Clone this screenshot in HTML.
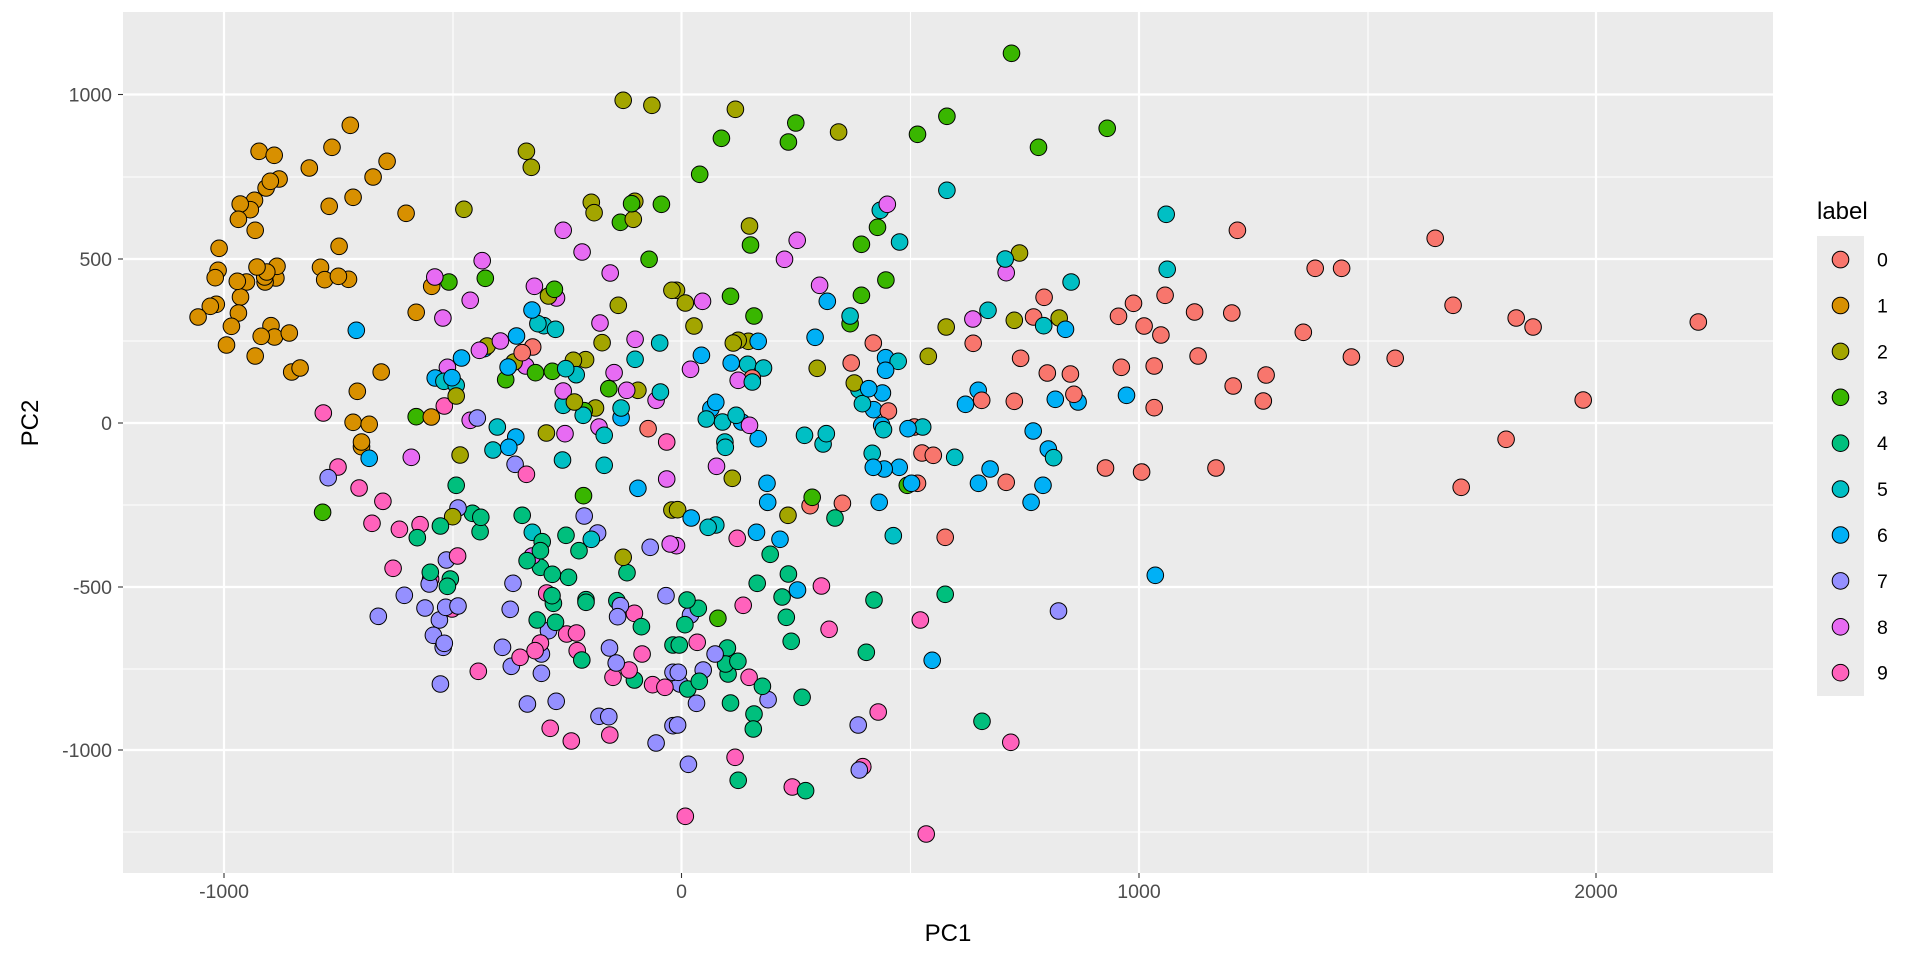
<!DOCTYPE html>
<html><head><meta charset="utf-8"><style>
html,body{margin:0;padding:0;background:#fff;}
svg{display:block;font-family:"Liberation Sans",sans-serif;}
</style></head><body>
<svg id="s" width="1920" height="960" viewBox="0 0 1920 960" xmlns="http://www.w3.org/2000/svg">
<rect x="0" y="0" width="1920" height="960" fill="#fff"/>
<rect x="123" y="12" width="1650" height="861" fill="#EBEBEB"/>
<g stroke="#fff" stroke-width="1.1">
<line x1="453" y1="12" x2="453" y2="873"/><line x1="910.5" y1="12" x2="910.5" y2="873"/><line x1="1368" y1="12" x2="1368" y2="873"/>
<line x1="123" y1="177" x2="1773" y2="177"/><line x1="123" y1="341" x2="1773" y2="341"/><line x1="123" y1="505" x2="1773" y2="505"/><line x1="123" y1="669" x2="1773" y2="669"/><line x1="123" y1="832" x2="1773" y2="832"/>
</g>
<g stroke="#fff" stroke-width="2.2">
<line x1="224" y1="12" x2="224" y2="873"/><line x1="681.5" y1="12" x2="681.5" y2="873"/><line x1="1139" y1="12" x2="1139" y2="873"/><line x1="1596" y1="12" x2="1596" y2="873"/>
<line x1="123" y1="94.5" x2="1773" y2="94.5"/><line x1="123" y1="259" x2="1773" y2="259"/><line x1="123" y1="423" x2="1773" y2="423"/><line x1="123" y1="587" x2="1773" y2="587"/><line x1="123" y1="750" x2="1773" y2="750"/>
</g>
<g id="pts" stroke="#000" stroke-width="1"></g>
<g stroke="#333" stroke-width="1.1">
<line x1="118" y1="94.5" x2="123" y2="94.5"/><line x1="118" y1="259" x2="123" y2="259"/><line x1="118" y1="423" x2="123" y2="423"/><line x1="118" y1="587" x2="123" y2="587"/><line x1="118" y1="750" x2="123" y2="750"/>
<line x1="224" y1="873" x2="224" y2="878"/><line x1="681.5" y1="873" x2="681.5" y2="878"/><line x1="1139" y1="873" x2="1139" y2="878"/><line x1="1596" y1="873" x2="1596" y2="878"/>
</g>
<g fill="#4D4D4D" font-size="19.5" text-anchor="end">
<text x="112" y="101.5">1000</text><text x="112" y="266">500</text><text x="112" y="430">0</text><text x="112" y="594">-500</text><text x="112" y="757">-1000</text>
</g>
<g fill="#4D4D4D" font-size="19.5" text-anchor="middle">
<text x="224" y="898">-1000</text><text x="681.5" y="898">0</text><text x="1139" y="898">1000</text><text x="1596" y="898">2000</text>
</g>
<text x="948" y="941" font-size="24" text-anchor="middle" fill="#000">PC1</text>
<text transform="translate(38,423) rotate(-90)" font-size="24" text-anchor="middle" fill="#000">PC2</text>
<text x="1817" y="219" font-size="24" fill="#000">label</text>
<rect x="1817" y="236" width="47" height="460" fill="#EBEBEB"/>
<g id="leg" stroke="#000" stroke-width="1"></g>
</svg>
<script>
var C=["#F8766D","#D89000","#A3A500","#39B600","#00BF7D","#00BFC4","#00B0F6","#9590FF","#E76BF3","#FF62BC"];
var T={
3:[123,12,{2:"1426,265;1508,280;1150,418;1164,466;972,592;1335,571;1343,602;1455,622;1459,568;1412,880;1366,992;1284,1045;1319,1043;1287,1170;1347,1188;1468,1135;1207,1263;950,1152;1038,1002;1213,852;1565,835;1115,1050",
3:"1450,575;1535,577;1418,631;1500,742;929,810;1033,799;1230,832;1091,1103;1176,1082;1224,1078;1385,1130;1315,1196;836,1214",
1:"648,340;388,418;431,430;596,406;531,468;753,448;713,495;445,501;420,508;408,528;375,565;334,576;363,593;329,622;377,655;588,583;656,556;807,604;274,709;616,703;271,775;263,797;382,765;439,763;410,780;404,795;436,798;326,808;352,810;405,810;563,766;575,803;614,793;643,802;335,855;249,883;266,877;329,903;214,915;309,943;422,941;394,973;432,975;474,963;295,999;377,1032;481,1080;505,1068;736,1080;668,1138;880,823;836,901;656,1231;702,1237;879,1215;680,1290",
8:"889,795;1024,746;990,865;912,918;1173,823;1236,858;1255,655;1309,720;1389,783;1360,933;1460,982;1076,987;1016,1015;925,1066;1148,1062;1255,1137;1400,1082;1436,1135;1520,1165;1260,1265;1357,1245;990,1225",
6:"665,955;1166,894;1122,972;965,1038;890,1098;938,1097;1098,1065;1420,1217;1120,1275;1030,1010",
5:"1200,941;1233,952;1183,935;1530,993;1460,1042;1292,1088;1262,1070;915,1108;950,1120;1067,1245;1255,1180;1420,1188;1532,1140;1372,1270;1312,1210",
0:"1168,1005;1138,1022;1497,1250",9:"916,1182;571,1203;1550,1290",7:"1010,1218"}],
4:[123,444,{1:"680,8",6:"702,43;1468,133;1100,10",8:"822,40;1167,336;1550,105;1560,300",2:"961,33;940,218;1426,340;1565,198",
9:"613,69;673,132;741,172;710,238;788,256;847,242;954,336;770,373;877,405;938,495;1150,91;1208,447;1265,570;1293,567;1295,620;1190,597;1175,620;1132,640;1013,682;1458,508;1480,630;1443,678;1397,700;1510,722;1545,730;1218,853;1278,891;1388,873",
7:"585,101;955,192;922,348;873,420;802,454;728,517;861,492;902,528;920,490;955,486;885,574;916,598;913,610;905,720;1118,61;1315,216;1353,267;1112,418;1104,496;1213,560;1082,610;1107,667;1193,630;1193,688;1153,780;1235,772;1357,817;1385,818;1387,612;1406,657;1418,485;1410,518;1503,310;1548,455;1520,897;1568,685;1568,845",
3:"569,205;1313,155",
4:"950,124;839,281;905,246;996,208;1020,220;1018,263;1138,214;1195,293;1190,320;1263,274;1300,320;1152,350;1190,370;1224,391;1270,400;876,385;933,405;925,427;1223,455;1227,478;1320,467;1320,475;1181,528;1233,535;1308,648;1408,470;1437,386;1478,548;1458,708;1568,603",
5:"1055,18;1253,48;1372,64;1167,265;1335,286"}],
5:[673,12,{3:"965,124;781,313;1238,349;1042,406;697,367;350,333;329,390;138,379;76,487;221,699;583,646;537,697;607,804;537,850;164,853;231,912;505,935",
2:"178,292;472,360;218,642;988,723;10,835;35,873;60,942;172,993;186,985;215,988;779,945;973,925;1101,918;728,1033;411,1069;517,1113",
5:"781,535;1406,607;1409,772;1135,810;947,741;591,595;646,690;898,895;1057,941;505,912;213,1057;258,1068;642,1048;530,1133;540,1175;180,1210;95,1221;141,1230;375,1270;437,1265;600,1253;712,1245;148,1290;226,1110",
8:"611,577;354,685;318,742;950,782;418,820;84,868;855,921;50,1072;186,1105;218,1240",
6:"440,868;405,976;243,988;81,1030;166,1053;606,1037;606,1075;597,1143;558,1130;572,1193;122,1171;108,1190;196,1230;243,1280;1119,952;870,1135;834,1177;1090,1162;1155,1170;1293,1150;1027,1257;595,1240;670,1250",
0:"1058,856;1028,915;1270,913;1313,874;1403,850;1487,900;1343,942;1391,969;571,993;856,994;508,1053;991,1039;1067,1083;1133,1086;1278,1066;1372,1062;1497,1032;880,1165;973,1168;1143,1147;1372,1187;614,1197;226,1098;688,1245"}],
6:[673,444,{0:"710,27;742,34;1233,72;1336,84;1548,72;950,115;697,118;391,185;483,178;776,280",
6:"571,70;602,75;645,70;904,75;871,118;1055,124;1021,175;1070,15;268,118;270,175;588,175;52,222;238,265;305,286;355,438;1375,394;739,649;680,118",
5:"149,10;568,28;803,40;1085,41;100,250;122,243;628,275;428,0",8:"124,67;10,305",2:"169,103;328,214;13,197",3:"397,160;128,523;668,124",
9:"183,283;423,426;200,484;445,556;705,528;69,595;217,700;585,804;963,895;177,940;541,968;340,1029;35,1117;722,1170",
4:"462,222;277,331;329,390;240,418;311,459;323,520;337,592;573,468;776,451;551,625;40,468;72,493;34,542;18,603;155,612;185,652;150,660;157,690;255,727;75,712;42,735;164,777;368,760;231,810;229,855;881,832;186,1009;378,1040",
7:"1099,501;50,513;120,630;86,678;15,685;20,720;67,778;271,767;13,843;528,843;44,961;531,978"}],
7:[1223,12,{0:"41,655;605,679;263,769;338,769;25,903;656,880;836,918;884,945;1355,930;229,961;366,1035;491,1039;123,1089;29,1122;115,1167;1027,1164;807,1282"}],
8:[1223,444,{0:"679,130"}]};
var NS="http://www.w3.org/2000/svg",g=document.getElementById("pts"),all=[];
for(var k in T){var o=T[k];for(var c in o[2]){o[2][c].split(";").forEach(function(p){var a=p.split(",");all.push([o[0]+(+a[0])/2.851,o[1]+(+a[1])/3,+c]);});}}
all.sort(function(a,b){return ((a[0]*7+a[1]*13)%17)-((b[0]*7+b[1]*13)%17);});
all.forEach(function(p){var e=document.createElementNS(NS,"circle");e.setAttribute("cx",p[0].toFixed(1));e.setAttribute("cy",p[1].toFixed(1));e.setAttribute("r","8.3");e.setAttribute("fill",C[p[2]]);g.appendChild(e);});
var L=document.getElementById("leg"),s=document.getElementById("s");
for(var i=0;i<10;i++){var y=259.6+45.9*i;var e=document.createElementNS(NS,"circle");e.setAttribute("cx","1840.5");e.setAttribute("cy",y);e.setAttribute("r","8.3");e.setAttribute("fill",C[i]);L.appendChild(e);
var t=document.createElementNS(NS,"text");t.setAttribute("x","1877");t.setAttribute("y",y+7);t.setAttribute("font-size","19.5");t.setAttribute("fill","#000");t.textContent=i;s.appendChild(t);}
</script>
</body></html>
